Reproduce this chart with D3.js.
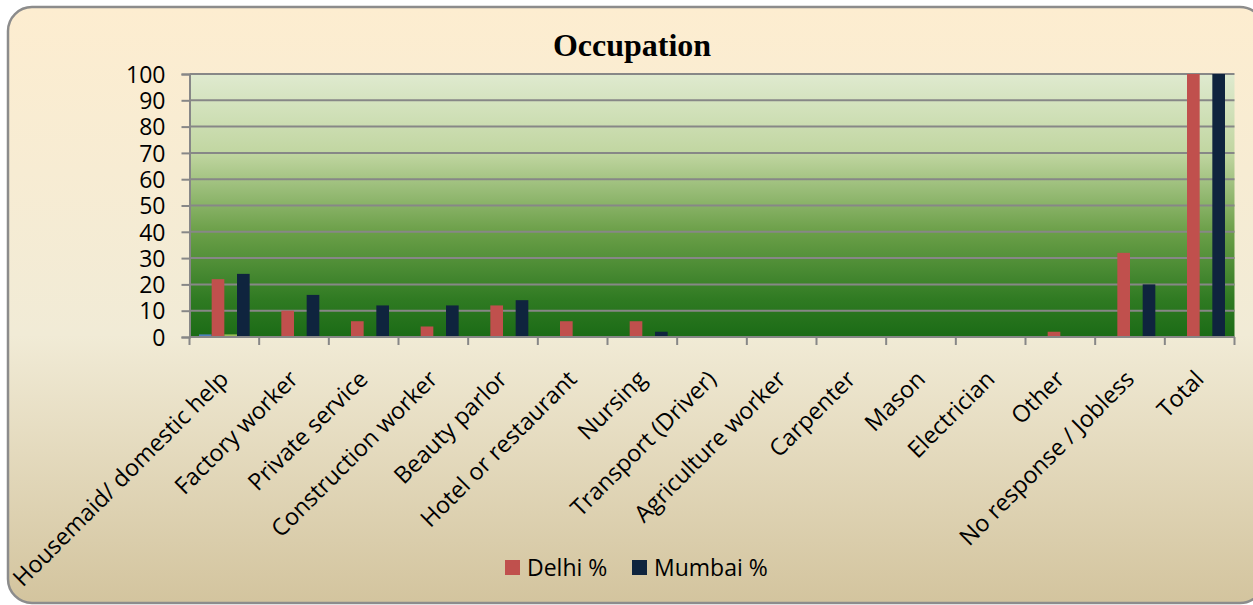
<!DOCTYPE html>
<html><head><meta charset="utf-8">
<script src="https://cdn.jsdelivr.net/npm/d3@7"></script>
<style>body{margin:0;background:#fff}svg{display:block}</style>
</head><body>
<svg id="c" width="1253" height="605"></svg>
<script>
const categories = ["Housemaid/ domestic help","Factory worker","Private service","Construction worker","Beauty parlor","Hotel or restaurant","Nursing","Transport (Driver)","Agriculture worker","Carpenter","Mason","Electrician","Other","No response / Jobless","Total"];
const series1 = [1,0,0,0,0,0,0,0,0,0,0,0,0,0,0];
const delhi   = [22,10,6,4,12,6,6,0,0,0,0,0,2,32,100];
const series3 = [1,0,0,0,0,0,0,0,0,0,0,0,0,0,0];
const mumbai  = [24,16,12,12,14,0,2,0,0,0,0,0,0,20,100];
const yTicks = [0,10,20,30,40,50,60,70,80,90,100];
const seriesNames = ["Series1","Delhi %","Series3","Mumbai %"];
const seriesColors = ["#4f81bd","#c0504d","#9bbb59","#0f243e"];
const seriesData = [series1, delhi, series3, mumbai];
const legendShown = [1,3];

const svg = d3.select("#c");
const defs = svg.append("defs");
const bg = defs.append("linearGradient").attr("id","bg").attr("x1",0).attr("y1",0).attr("x2",0).attr("y2",1);
[[0,"#fdedd0"],[0.55,"#f1ebd6"],[1,"#d3c49e"]].forEach(s=>bg.append("stop").attr("offset",s[0]).attr("stop-color",s[1]));
const pg = defs.append("linearGradient").attr("id","pg").attr("x1",0).attr("y1",0).attr("x2",0).attr("y2",1);
[[0,"#dfeacf"],[0.3,"#c1d6a1"],[0.6,"#6b9f48"],[0.86,"#2f7a22"],[1,"#1b6b16"]].forEach(s=>pg.append("stop").attr("offset",s[0]).attr("stop-color",s[1]));

svg.append("rect").attr("x",8).attr("y",7).attr("width",1256).attr("height",596).attr("rx",24)
  .attr("fill","url(#bg)").attr("stroke","#8c8c8c").attr("stroke-width",2.5);

const L=189.5, R=1234.5, T=74, B=337;
const x = d3.scaleBand().domain(categories).range([L,R]).padding(0);
const y = d3.scaleLinear().domain([0,100]).range([B,T]);

svg.append("rect").attr("x",L).attr("y",T).attr("width",R-L).attr("height",B-T).attr("fill","url(#pg)");

// gridlines
svg.append("g").selectAll("line").data(yTicks.filter(d=>d>0)).join("line")
  .attr("x1",L).attr("x2",R).attr("y1",d=>y(d)).attr("y2",d=>y(d))
  .attr("stroke","#878787").attr("stroke-width",2);

// bars
const bw = x.bandwidth()/5.5;
const gb = svg.append("g");
seriesData.forEach((arr,si)=>{
  gb.selectAll(null).data(arr.map((v,i)=>({v,c:categories[i]}))).join("rect")
    .attr("x",d=>x(d.c)+bw*0.75+si*bw).attr("width",bw)
    .attr("y",d=>y(d.v)).attr("height",d=>y(0)-y(d.v))
    .attr("fill",seriesColors[si]);
});

// y axis
const yAxis = d3.axisLeft(y).tickValues(yTicks).tickSize(8).tickPadding(16);
const ya = svg.append("g").attr("transform",`translate(${L},0)`).call(yAxis);
ya.select(".domain").attr("stroke","#878787").attr("stroke-width",2);
ya.selectAll(".tick line").attr("stroke","#878787").attr("stroke-width",2);
ya.selectAll(".tick text").attr("font-family","'Open Sans'").attr("font-size",23).attr("fill","#000").attr("dy","0.36em");

// x axis
const xa = svg.append("g").attr("transform",`translate(0,${B})`);
xa.append("line").attr("x1",L).attr("x2",R).attr("stroke","#878787").attr("stroke-width",2);
const bounds = categories.map(c=>x(c)).concat([R]);
xa.selectAll("line.t").data(bounds).join("line").attr("class","t")
  .attr("x1",d=>d).attr("x2",d=>d).attr("y1",0).attr("y2",8).attr("stroke","#878787").attr("stroke-width",2);
xa.selectAll("text").data(categories).join("text")
  .attr("transform",d=>`translate(${x(d)+x.bandwidth()/2-6},${32}) rotate(-45)`)
  .attr("text-anchor","end").attr("dy","0.7em")
  .attr("font-family","'Open Sans'").attr("font-size",23.4).attr("fill","#000").text(d=>d);

// title
svg.append("text").attr("x",632).attr("y",56).attr("text-anchor","middle")
  .attr("font-family","'Liberation Serif','Times New Roman',serif").attr("font-weight","bold").attr("font-size",32).text("Occupation");

// legend
const lg = svg.append("g");
const lx = [505, 632];
legendShown.forEach((si,k)=>{
  lg.append("rect").attr("x",lx[k]).attr("y",560).attr("width",15).attr("height",15).attr("fill",seriesColors[si]);
  lg.append("text").attr("x",lx[k]+22).attr("y",576).attr("font-family","'Open Sans'").attr("font-size",23).text(seriesNames[si]);
});
</script>
</body></html>
